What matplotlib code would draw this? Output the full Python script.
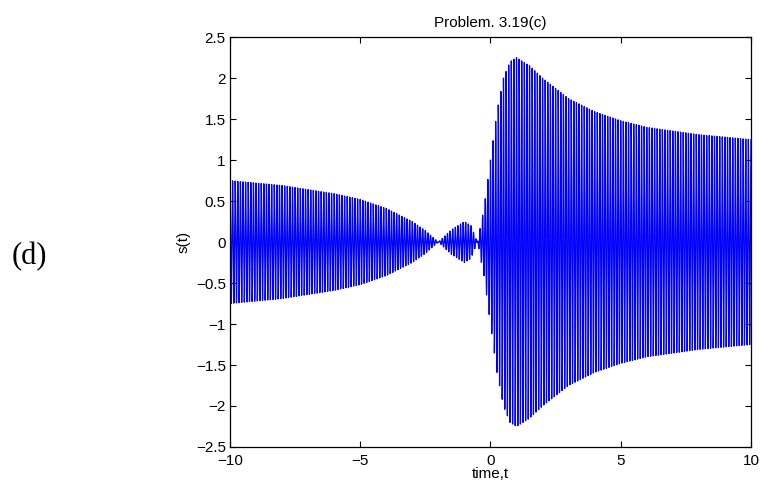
import numpy as np
import matplotlib
matplotlib.use("Agg")
import matplotlib.pyplot as plt

# envelope of s(t) (sign flips between the two zeros)
env_t = [-10, -8, -6, -5, -4, -3, -2.5, -2, -1.5, -1, -0.75, -0.5, -0.25,
         0, 0.25, 0.5, 0.75, 1, 1.5, 2, 3, 4, 5, 6, 8, 10]
env_v = [0.75, 0.69, 0.59, 0.52, 0.41, 0.25, 0.14, 0.0, -0.15, -0.25, -0.2, 0.0, 0.41,
         1.0, 1.59, 2.0, 2.2, 2.25, 2.15, 2.0, 1.75, 1.59, 1.48, 1.40, 1.31, 1.25]
carrier_hz = 10
dt = 0.01

xticks = [-10, -5, 0, 5, 10]
yticks = [-2.5, -2, -1.5, -1, -0.5, 0, 0.5, 1, 1.5, 2, 2.5]

t = np.arange(-10, 10 + dt / 2, dt)
s = np.interp(t, env_t, env_v) * np.cos(2 * np.pi * carrier_hz * t)

plt.rcParams['font.family'] = ['Liberation Sans', 'DejaVu Sans']
fig = plt.figure(figsize=(7.62, 4.95), dpi=100)
ax = fig.add_axes([0.3018, 0.097, 0.6837, 0.828])
ax.plot(t, s, color='b', linewidth=0.9)

ax.set_xlim(-10, 10)
ax.set_ylim(-2.5, 2.5)
ax.set_xticks(xticks)
ax.set_yticks(yticks)
fmt = lambda v: ("%g" % v).replace('-', '\u2212')
ax.set_xticklabels([fmt(v) for v in xticks])
ax.set_yticklabels([fmt(v) for v in yticks])
ax.tick_params(direction='in', length=4, labelsize=11, width=0.8,
               top=True, right=True)
ax.tick_params(axis='x', pad=5)
ax.tick_params(axis='y', pad=3)
for sp in ax.spines.values():
    sp.set_linewidth(0.9)

ax.set_title('Problem. 3.19(c)', fontsize=11, pad=7)
ax.set_xlabel('time,t', fontsize=11, labelpad=-1)
ax.set_ylabel('s(t)', fontsize=11, labelpad=4)

fig.text(0.039, 0.481, '(d)', fontsize=22, family=['Liberation Serif'],
         ha='center', va='center')

fig.savefig('out.png', dpi=100)
